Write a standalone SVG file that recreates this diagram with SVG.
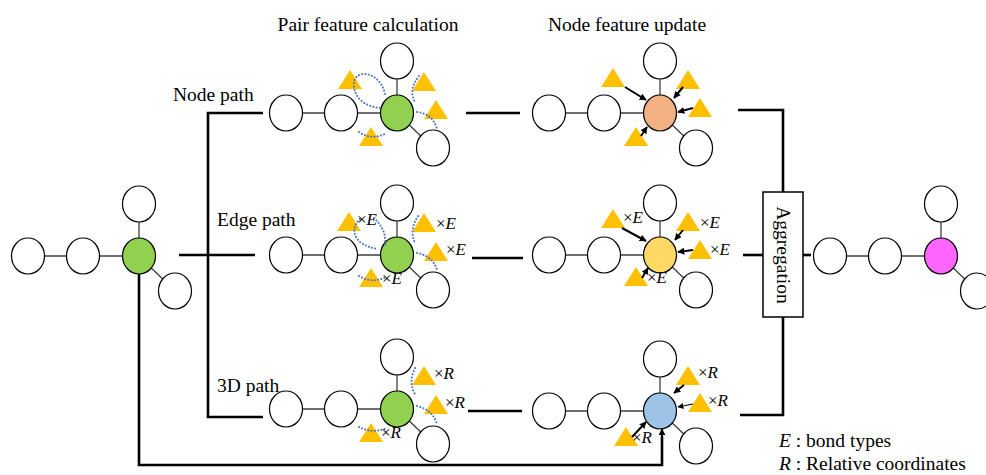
<svg xmlns="http://www.w3.org/2000/svg" xmlns:xlink="http://www.w3.org/1999/xlink" width="986" height="475" viewBox="0 0 986 475">
<style>
text{font-family:"Liberation Serif","Times New Roman",serif;fill:#000}
.t{font-size:19.5px}
.m{font-size:17px}
.atom{stroke:#000;stroke-width:1.2}
.w{fill:#fff}
.bond{stroke:#404040;stroke-width:1.3;fill:none}
.thick{stroke:#000;stroke-width:2.6;fill:none}
.arr{stroke:#000;stroke-width:2;fill:none;marker-end:url(#ah)}
.arrt{stroke:#000;stroke-width:1.2;fill:none;marker-end:url(#ah2)}
.dot{stroke:#4472C4;stroke-width:2;fill:none;stroke-dasharray:0.1 3.2;stroke-linecap:round}
.tri{fill:#FFC000}
</style>
<defs>
<marker id="ah" viewBox="0 0 10 10" refX="9" refY="5" markerWidth="3.5" markerHeight="3.5" orient="auto"><path d="M0,0 L10,5 L0,10 Z" fill="#000"/></marker>
<marker id="ah2" viewBox="0 0 10 10" refX="9" refY="5" markerWidth="5" markerHeight="5" orient="auto"><path d="M0,0 L10,5 L0,10 Z" fill="#000"/></marker>
<g id="mol">
<path class="bond" d="M-111,0 H0 M0,0 V-52 M0,0 L36,35"/>
<ellipse class="atom w" cx="-111" cy="0" rx="16.5" ry="18"/>
<ellipse class="atom w" cx="-56" cy="0" rx="16.5" ry="18"/>
<ellipse class="atom w" cx="0" cy="-52" rx="16.5" ry="18"/>
<ellipse class="atom w" cx="36" cy="35" rx="16.5" ry="18"/>
</g>
<path id="tri" class="tri" d="M0,-10 L12,9 L-12,9 Z"/>
</defs>

<g id="titles">
<text class="t" x="368" y="31" text-anchor="middle">Pair feature calculation</text>
<text class="t" x="627" y="31" text-anchor="middle">Node feature update</text>
<text class="t" x="173" y="101">Node path</text>
<text class="t" x="217" y="226">Edge path</text>
<text class="t" x="217" y="392">3D path</text>
</g>

<g id="connectors">
<path class="thick" d="M179,255 H255"/>
<path class="thick" d="M263,113 H208 V417 H263"/>
<path class="thick" d="M466,113 H520"/>
<path class="thick" d="M472,258 H523"/>
<path class="thick" d="M468,411 H522"/>
<path class="thick" d="M738,110 H783 V192"/>
<path class="thick" d="M743,255 H763"/>
<path class="thick" d="M740,415 H783 V317"/>
<path class="thick" d="M803,255 H811"/>
<path class="thick" d="M139,274 V465 H662 V436"/>
<path class="arr" d="M662,440 V429"/>
</g>

<g id="aggregation">
<rect x="763" y="192" width="40" height="125" fill="#fff" stroke="#000" stroke-width="1.5"/>
<text class="t" transform="translate(783,255) rotate(90)" text-anchor="middle" dominant-baseline="central">Aggregation</text>
</g>

<g id="mol-input">
<use xlink:href="#mol" transform="translate(139,256)"/>
<ellipse class="atom" cx="139" cy="256" rx="16.5" ry="18" fill="#92D050"/>
</g>

<g id="pair-node">
<use xlink:href="#mol" transform="translate(397,113)"/>
<ellipse class="atom" cx="397" cy="113" rx="16.5" ry="18" fill="#92D050"/>
<use xlink:href="#tri" x="350" y="80"/>
<use xlink:href="#tri" x="424" y="82"/>
<use xlink:href="#tri" x="436" y="110"/>
<use xlink:href="#tri" x="371" y="137"/>
<path class="dot" d="M385,94 C380,70 352,68 354,86 C355,100 368,107 380,108"/>
<path class="dot" d="M419,76 Q408,90 415,102"/>
<path class="dot" d="M417,112 Q433,114 437,129"/>
<path class="dot" d="M359,132 Q372,141 387,133"/>
</g>

<g id="update-node">
<use xlink:href="#mol" transform="translate(660,113)"/>
<ellipse class="atom" cx="660" cy="113" rx="16.5" ry="18" fill="#F4B183"/>
<use xlink:href="#tri" x="613" y="78"/>
<use xlink:href="#tri" x="688" y="80"/>
<use xlink:href="#tri" x="700" y="108"/>
<use xlink:href="#tri" x="636" y="137"/>
<path class="arr" d="M625,87 L646,100"/>
<path class="arr" d="M683,87 L674,98"/>
<path class="arr" d="M693,108 L678,112"/>
<path class="arr" d="M641,136 L647,127"/>
</g>

<g id="pair-edge">
<use xlink:href="#mol" transform="translate(397,255)"/>
<ellipse class="atom" cx="397" cy="255" rx="16.5" ry="18" fill="#92D050"/>
<use xlink:href="#tri" x="349" y="222"/>
<use xlink:href="#tri" x="424" y="223"/>
<use xlink:href="#tri" x="436" y="252"/>
<use xlink:href="#tri" x="371" y="278"/>
<path class="dot" d="M360,219 C350,228 352,245 378,249"/>
<path class="dot" d="M374,218 Q387,230 385,245"/>
<path class="dot" d="M418,216 Q409,230 415,243"/>
<path class="dot" d="M417,253 Q433,256 437,270"/>
<path class="dot" d="M359,276 Q372,284 386,277"/>
<text class="m" x="357" y="225">×<tspan font-style="italic">E</tspan></text>
<text class="m" x="436" y="229">×<tspan font-style="italic">E</tspan></text>
<text class="m" x="446" y="255">×<tspan font-style="italic">E</tspan></text>
<text class="m" x="382" y="284">×<tspan font-style="italic">E</tspan></text>
</g>

<g id="update-edge">
<use xlink:href="#mol" transform="translate(660,255)"/>
<ellipse class="atom" cx="660" cy="255" rx="16.5" ry="18" fill="#FFD966"/>
<use xlink:href="#tri" x="613" y="219"/>
<use xlink:href="#tri" x="688" y="222"/>
<use xlink:href="#tri" x="700" y="250"/>
<use xlink:href="#tri" x="636" y="277"/>
<path class="arr" d="M622,228 L646,241"/>
<path class="arr" d="M683,230 L675,240"/>
<path class="arr" d="M693,250 L678,252"/>
<path class="arr" d="M642,278 L648,268"/>
<text class="m" x="623" y="223">×<tspan font-style="italic">E</tspan></text>
<text class="m" x="700" y="228">×<tspan font-style="italic">E</tspan></text>
<text class="m" x="710" y="255">×<tspan font-style="italic">E</tspan></text>
<text class="m" x="647" y="283">×<tspan font-style="italic">E</tspan></text>
</g>

<g id="pair-3d">
<use xlink:href="#mol" transform="translate(397,409)"/>
<ellipse class="atom" cx="397" cy="409" rx="16.5" ry="18" fill="#92D050"/>
<use xlink:href="#tri" x="424" y="376"/>
<use xlink:href="#tri" x="436" y="405"/>
<use xlink:href="#tri" x="371" y="433"/>
<path class="dot" d="M415,368 Q408,382 415,394"/>
<path class="dot" d="M417,406 Q433,410 437,424"/>
<path class="dot" d="M359,427 Q372,434 387,428"/>
<text class="m" x="434" y="379">×<tspan font-style="italic">R</tspan></text>
<text class="m" x="445" y="408">×<tspan font-style="italic">R</tspan></text>
<text class="m" x="381" y="438">×<tspan font-style="italic">R</tspan></text>
</g>

<g id="update-3d">
<use xlink:href="#mol" transform="translate(660,411)"/>
<ellipse class="atom" cx="660" cy="411" rx="16.5" ry="18" fill="#9DC3E6"/>
<use xlink:href="#tri" x="688" y="376"/>
<use xlink:href="#tri" x="700" y="403"/>
<use xlink:href="#tri" x="626" y="437"/>
<path class="arr" d="M684,385 L674,393"/>
<path class="arrt" d="M693,404 L678,407"/>
<path class="arr" d="M632,437 L646,422"/>
<text class="m" x="698" y="378">×<tspan font-style="italic">R</tspan></text>
<text class="m" x="708" y="406">×<tspan font-style="italic">R</tspan></text>
<text class="m" x="632" y="443">×<tspan font-style="italic">R</tspan></text>
</g>

<g id="mol-output">
<use xlink:href="#mol" transform="translate(941,256)"/>
<ellipse class="atom" cx="941" cy="256" rx="16.5" ry="18" fill="#FF66FF"/>
</g>

<g id="legend">
<text class="t" x="779" y="447"><tspan font-style="italic">E</tspan> : bond types</text>
<text class="t" x="779" y="470"><tspan font-style="italic">R</tspan> : Relative coordinates</text>
</g>
</svg>
